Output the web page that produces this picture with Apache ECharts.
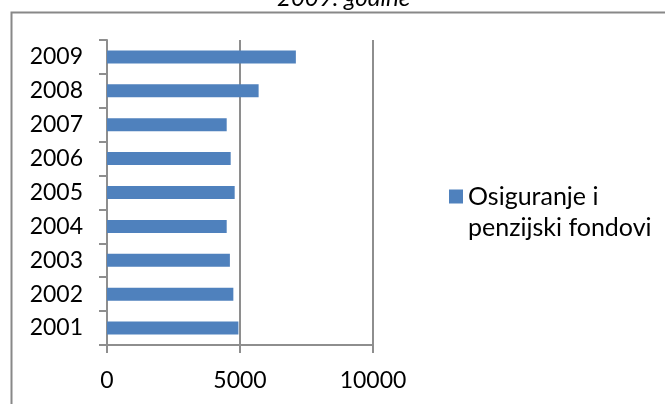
<!DOCTYPE html>
<html>
<head>
<meta charset="utf-8">
<script src="https://cdn.jsdelivr.net/npm/echarts@6/dist/echarts.min.js"></script>
<style>html,body{margin:0;padding:0;background:#fff;}#c{width:665px;height:404px;}</style>
</head>
<body>
<div id="c"></div>
<script>
const titleText = '2009. godine';
const seriesName = 'Osiguranje i penzijski fondovi';
const legendLines = ['Osiguranje i', 'penzijski fondovi'];
const categories = ['2001', '2002', '2003', '2004', '2005', '2006', '2007', '2008', '2009'];
const values = [4940, 4750, 4620, 4500, 4800, 4650, 4500, 5700, 7100];
const xMin = 0, xMax = 10000, xStep = 5000;

const FONT = 'Lato';
const chart = echarts.init(document.getElementById('c'), null, {renderer: 'canvas'});
chart.setOption({
  animation: false,
  backgroundColor: '#fff',
  graphic: [{
    type: 'rect', left: 9, top: 10, shape: {width: 700, height: 500},
    style: {fill: 'none', stroke: '#888', lineWidth: 2}, silent: true, z: -1
  }, {
    type: 'text', x: 277, y: 10, silent: true,
    style: {text: titleText, fill: '#000', font: 'italic 24px Lato', verticalAlign: 'bottom', align: 'left'}
  }],
  legend: {
    data: [seriesName],
    left: 449, top: 150, padding: 0,
    itemWidth: 14, itemHeight: 14, itemGap: 8,
    icon: 'rect',
    formatter: () => '\n' + legendLines.join('\n'),
    textStyle: {fontFamily: FONT, fontSize: 25, color: '#000', lineHeight: 31}
  },
  grid: {left: 107, top: 40, width: 266, height: 305, containLabel: false},
  xAxis: {
    type: 'value', min: xMin, max: xMax, interval: xStep,
    axisLine: {show: true, lineStyle: {color: '#8e8e8e', width: 2}},
    axisTick: {show: true, length: 8, lineStyle: {color: '#8e8e8e', width: 2}},
    splitLine: {show: true, lineStyle: {color: '#8e8e8e', width: 2}},
    axisLabel: {fontFamily: FONT, fontSize: 23, color: '#000', margin: 24, formatter: v => String(v)}
  },
  yAxis: {
    type: 'category', data: categories,
    axisLine: {show: true, lineStyle: {color: '#8e8e8e', width: 2}},
    axisTick: {show: true, length: 8, lineStyle: {color: '#8e8e8e', width: 2}},
    axisLabel: {fontFamily: FONT, fontSize: 23, color: '#000', margin: 24}
  },
  series: [{
    name: seriesName, type: 'bar', data: values, barWidth: 13,
    itemStyle: {color: '#4f81bd'}
  }]
});
</script>
</body>
</html>
